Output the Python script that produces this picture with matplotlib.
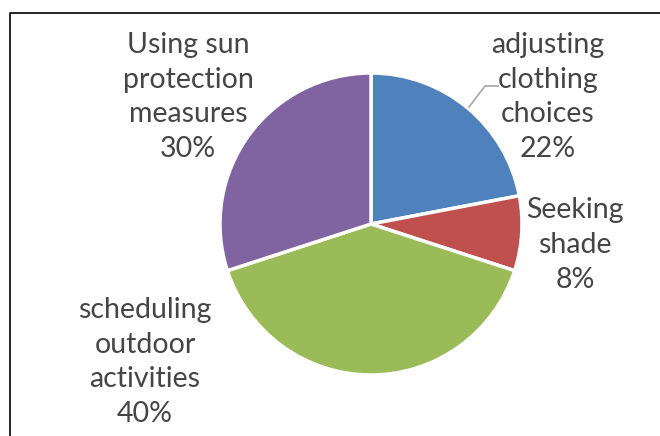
import matplotlib.pyplot as plt
from matplotlib.lines import Line2D

labels = ['adjusting\nclothing\nchoices', 'Seeking\nshade',
          'scheduling\noutdoor\nactivities', 'Using sun\nprotection\nmeasures']
values = [22, 8, 40, 30]
colors = ['#4F81BD', '#C0504D', '#9BBB59', '#8064A2']

# label block centres, in pixels from top-left
label_pos = [(548, 97), (575, 245), (145, 362), (188, 97)]

W, H = 660, 436
fig = plt.figure(figsize=(W / 100, H / 100), dpi=100)
fig.patch.set_facecolor('white')

ax = fig.add_axes([220 / W, 1 - 375 / H, 302 / W, 302 / H])
ax.pie(values, colors=colors, startangle=90, counterclock=False,
       wedgeprops=dict(edgecolor='white', linewidth=2.5))
ax.set_xlim(-1, 1)
ax.set_ylim(-1, 1)
ax.set_aspect('equal')
ax.axis('off')

for lab, val, (px, py) in zip(labels, values, label_pos):
    fig.text(px / W, 1 - py / H, f'{lab}\n{val}%', ha='center', va='center',
             fontsize=20.5, family='Lato', color='#454545', linespacing=1.42)

# leader line for the clothing label
fig.add_artist(Line2D([469 / W, 485 / W, 498 / W],
                      [1 - 107 / H, 1 - 86 / H, 1 - 86 / H],
                      color='#a6a6a6', lw=1.2))

# chart frame
fig.add_artist(Line2D([10 / W, 10 / W, 1.0], [0.0, 1 - 13 / H, 1 - 13 / H],
                      color='black', lw=1.2))

fig.savefig('out.png', dpi=100)
